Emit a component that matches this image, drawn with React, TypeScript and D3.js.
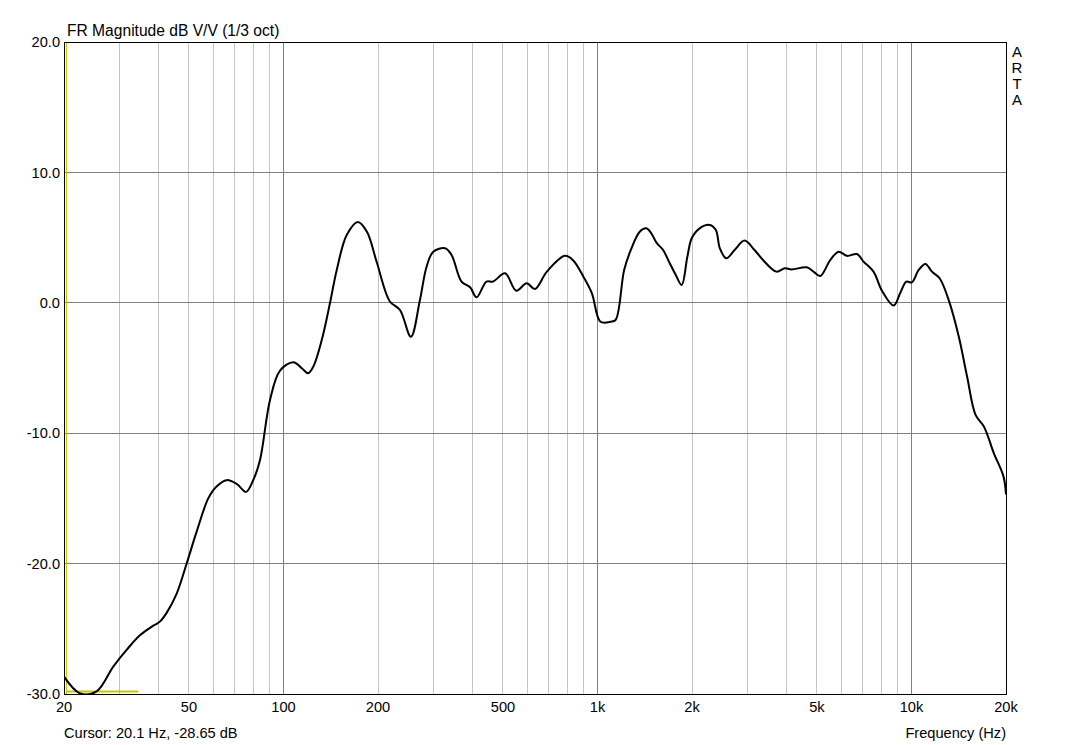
import React from "react";
import * as d3 from "d3";

const freqs = [20, 22.5, 25.4, 28.7, 31.7, 34.9, 38.5, 40.4, 42.4, 45.7, 49.2, 52.9, 57.6, 61.1, 65.9, 71.1, 76, 80.1, 84.2, 90.6, 97.5, 107.5, 114.4, 119.8, 124.4, 132.4, 140.7, 147.8, 159, 172.5, 184.4, 198, 218.2, 235, 254.5, 272, 285.6, 300, 327, 343, 369, 393, 412, 443, 465, 508, 551, 595, 632, 690, 788, 836, 902, 960, 1022, 1103, 1143, 1216, 1277, 1363, 1430, 1484, 1541, 1618, 1699, 1776, 1854, 1933, 1996, 2116, 2278, 2382, 2453, 2572, 2734, 2940, 3164, 3367, 3716, 3950, 4152, 4638, 4875, 5122, 5512, 5862, 6232, 6703, 7043, 7570, 8054, 8774, 9215, 9632, 10026, 10544, 11076, 11620, 12290, 13140, 14150, 15040, 16000, 17020, 18300, 19640, 20000];
const levels = [-28.67, -29.95, -29.8, -27.9, -26.6, -25.5, -24.76, -24.45, -23.8, -22.3, -19.97, -17.55, -15.0, -14.1, -13.6, -13.9, -14.5, -13.6, -12.05, -7.45, -5.2, -4.56, -5.02, -5.4, -4.9, -2.85, 0.0, 2.52, 5.2, 6.2, 5.45, 3.15, 0.1, -0.55, -2.6, 0.21, 2.77, 3.92, 4.18, 3.67, 1.63, 1.19, 0.42, 1.63, 1.63, 2.26, 0.93, 1.49, 1.06, 2.39, 3.6, 3.27, 2.0, 0.73, -1.45, -1.45, -1.3, 2.52, 4.05, 5.45, 5.71, 5.33, 4.61, 4.05, 3.03, 2.13, 1.37, 3.53, 4.95, 5.71, 5.97, 5.58, 4.18, 3.41, 4.05, 4.77, 4.05, 3.28, 2.39, 2.65, 2.56, 2.72, 2.39, 2.05, 3.28, 3.92, 3.6, 3.74, 3.15, 2.39, 0.93, -0.21, 0.77, 1.63, 1.56, 2.52, 2.98, 2.39, 1.88, 0.21, -2.6, -5.67, -8.6, -9.5, -11.54, -13.33, -14.7];

const xTickValues = [20, 50, 100, 200, 500, 1000, 2000, 5000, 10000, 20000];
const xTickLabels = ["20", "50", "100", "200", "500", "1k", "2k", "5k", "10k", "20k"];
const yTickValues = [20, 10, 0, -10, -20, -30];
const yTickLabels = ["20.0", "10.0", "0.0", "-10.0", "-20.0", "-30.0"];
const majorFreqs = [100, 1000, 10000];

const cursorFreq = 20.1;
const cursorLevel = -29.8;
const cursorEndFreq = 34.5;

const W = 1070, H = 745;
const L = 64, R = 1006, T = 42, B = 694;
const FONT = "'Liberation Sans', Arial, sans-serif";

export default function App() {
  const x = d3.scaleLog().domain([20, 20000]).range([L, R]);
  const y = d3.scaleLinear().domain([-30, 20]).range([B, T]);

  const minorFreqs: number[] = [];
  for (let dec = 10; dec <= 10000; dec *= 10) {
    for (let m = 1; m <= 9; m++) {
      const f = dec * m;
      if (f > 20 && f < 20000 && !majorFreqs.includes(f)) minorFreqs.push(f);
    }
  }

  const pts: [number, number][] = freqs.map((f, i) => [f, levels[i]]);
  const line = d3
    .line<[number, number]>()
    .x((d) => x(d[0]))
    .y((d) => y(d[1]))
    .curve(d3.curveCatmullRom.alpha(0.5));

  const cx = Math.round(x(cursorFreq)) + 1.5;

  return (
    <svg
      width={W}
      height={H}
      style={{ position: "absolute", left: 0, top: 0, background: "#fff" }}
      fontFamily={FONT}
    >
      <defs>
        <clipPath id="plot">
          <rect x={L} y={T} width={R - L} height={B - T} />
        </clipPath>
      </defs>
      <rect x={0} y={0} width={W} height={H} fill="#fff" />
      {minorFreqs.map((f) => (
        <line key={"m" + f} x1={x(f)} x2={x(f)} y1={T} y2={B} stroke="#c4c4c4" strokeWidth={1} shapeRendering="crispEdges" />
      ))}
      {majorFreqs.map((f) => (
        <line key={"M" + f} x1={x(f)} x2={x(f)} y1={T} y2={B} stroke="#808080" strokeWidth={1} shapeRendering="crispEdges" />
      ))}
      {yTickValues.slice(1, -1).map((v) => (
        <line key={"h" + v} x1={L} x2={R} y1={y(v)} y2={y(v)} stroke="#808080" strokeWidth={1} shapeRendering="crispEdges" />
      ))}
      <rect x={L + 0.5} y={T + 0.5} width={R - L} height={B - T} fill="none" stroke="#000" strokeWidth={1} />
      <line x1={cx} x2={cx} y1={T + 1} y2={B} stroke="#c8c800" strokeWidth={1} />
      <line x1={cx} x2={x(cursorEndFreq)} y1={y(cursorLevel)} y2={y(cursorLevel)} stroke="#c8c800" strokeWidth={2} />
      <path d={line(pts) || ""} fill="none" stroke="#000" strokeWidth={2} clipPath="url(#plot)" strokeLinejoin="round" />
      {yTickValues.map((v, i) => (
        <text key={"yl" + v} x={L - 4} y={y(v)} dy="0.35em" textAnchor="end" fontSize={14.6} fill="#000">
          {yTickLabels[i]}
        </text>
      ))}
      {xTickValues.map((v, i) => (
        <text key={"xl" + v} x={x(v)} y={B + 18} textAnchor="middle" fontSize={14.6} fill="#000">
          {xTickLabels[i]}
        </text>
      ))}
      <text x={67} y={36} fontSize={15.6} fill="#000">FR Magnitude dB V/V (1/3 oct)</text>
      <text x={64} y={738} fontSize={14.6} fill="#000">Cursor: 20.1 Hz, -28.65 dB</text>
      <text x={R} y={738} textAnchor="end" fontSize={14.6} fill="#000">Frequency (Hz)</text>
      {["A", "R", "T", "A"].map((c, i) => (
        <text key={"arta" + i} x={1017} y={57 + i * 16} textAnchor="middle" fontSize={15} fill="#000">
          {c}
        </text>
      ))}
    </svg>
  );
}
